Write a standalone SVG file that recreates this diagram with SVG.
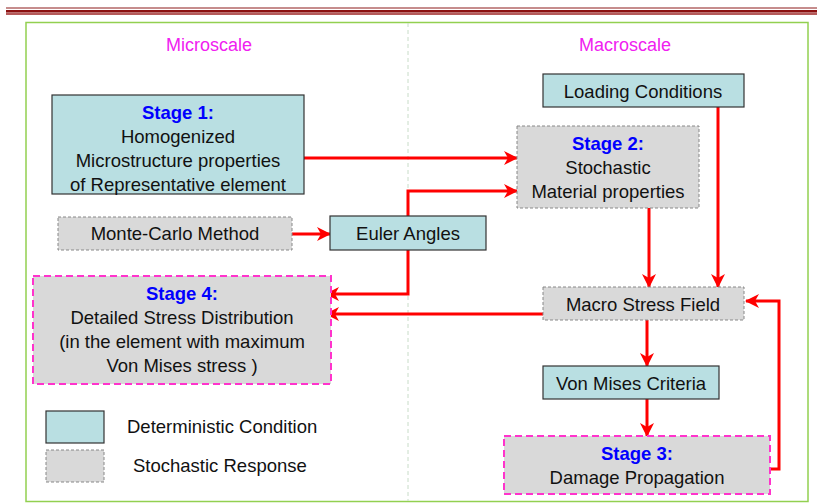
<svg xmlns="http://www.w3.org/2000/svg" width="817" height="504" viewBox="0 0 817 504">
  <style>
    text { font-family: "Liberation Sans", Arial, sans-serif; font-size: 18.5px; fill: #111; text-anchor: middle; }
    .title { fill: #f020f0; font-size: 18px; }
    .stage { fill: #0000ff; font-weight: bold; }
    .det { fill: #b9dfe2; stroke: #333; stroke-width: 1.2; }
    .sto { fill: #d9d9d9; stroke: #888; stroke-width: 1; stroke-dasharray: 3 2; }
    .key { fill: #d9d9d9; stroke: #ff33cc; stroke-width: 2; stroke-dasharray: 7 4; }
    .conn { fill: none; stroke: #ff0000; stroke-width: 3; }
    .legend { text-anchor: start; }
  </style>
  <defs>
    <marker id="arrow" viewBox="0 0 14 14" refX="13" refY="7" markerWidth="14" markerHeight="14" markerUnits="userSpaceOnUse" orient="auto">
      <path d="M0,0 L14,7 L0,14 L4,7 Z" fill="#ff0000"/>
    </marker>
  </defs>

  <!-- page header rule -->
  <line x1="6" y1="8" x2="817" y2="8" stroke="#8c1a1a" stroke-width="1"/>
  <rect x="6" y="10" width="811" height="2.5" fill="#8c1010"/>
  <rect x="6" y="12.5" width="811" height="2.5" fill="#b55a5a"/>

  <!-- frame and scale divider -->
  <rect x="26" y="22.5" width="782" height="479" fill="none" stroke="#92d050" stroke-width="1.5"/>
  <line x1="408" y1="23" x2="408" y2="501" stroke="#c8dcc8" stroke-width="1" stroke-dasharray="4 3"/>

  <text class="title" x="209" y="51">Microscale</text>
  <text class="title" x="625" y="51">Macroscale</text>

  <!-- connectors -->
  <g id="connectors">
    <path class="conn" d="M304,158 L517,158" marker-end="url(#arrow)"/>
    <path class="conn" d="M408,216 L408,191 L517,191" marker-end="url(#arrow)"/>
    <path class="conn" d="M292,234 L330,234" marker-end="url(#arrow)"/>
    <path class="conn" d="M408,250 L408,294 L326,294" marker-end="url(#arrow)"/>
    <path class="conn" d="M543,314 L326,314" marker-end="url(#arrow)"/>
    <path class="conn" d="M649,208 L649,287" marker-end="url(#arrow)"/>
    <path class="conn" d="M718,107 L718,287" marker-end="url(#arrow)"/>
    <path class="conn" d="M647,320 L647,366" marker-end="url(#arrow)"/>
    <path class="conn" d="M647,399 L647,436" marker-end="url(#arrow)"/>
    <path class="conn" d="M770,469 L779,469 L779,301 L746,301" marker-end="url(#arrow)"/>
  </g>

  <g id="stage1">
    <rect class="det" x="52" y="95" width="252" height="99"/>
    <text class="stage" x="178" y="119">Stage 1:</text>
    <text x="178" y="143">Homogenized</text>
    <text x="178" y="167">Microstructure properties</text>
    <text x="178" y="191">of Representative element</text>
  </g>

  <g id="loading">
    <rect class="det" x="543" y="74" width="201" height="33"/>
    <text x="643" y="98">Loading Conditions</text>
  </g>

  <g id="stage2">
    <rect class="sto" x="517" y="126" width="182" height="82"/>
    <text class="stage" x="608" y="150">Stage 2:</text>
    <text x="608" y="174">Stochastic</text>
    <text x="608" y="198">Material properties</text>
  </g>

  <g id="montecarlo">
    <rect class="sto" x="58" y="217" width="234" height="33"/>
    <text x="175" y="240">Monte-Carlo Method</text>
  </g>

  <g id="euler">
    <rect class="det" x="330" y="216" width="156" height="34"/>
    <text x="408" y="240">Euler Angles</text>
  </g>

  <g id="stage4">
    <rect class="key" x="33" y="276" width="298" height="108"/>
    <text class="stage" x="182" y="300">Stage 4:</text>
    <text x="182" y="324">Detailed Stress Distribution</text>
    <text x="182" y="348">(in the element with maximum</text>
    <text x="182" y="372">Von Mises stress )</text>
  </g>

  <g id="macro">
    <rect class="sto" x="543" y="287" width="201" height="33"/>
    <text x="643" y="311">Macro Stress Field</text>
  </g>

  <g id="vonmises">
    <rect class="det" x="543" y="366" width="176" height="33"/>
    <text x="631" y="390">Von Mises Criteria</text>
  </g>

  <g id="stage3">
    <rect class="key" x="504" y="436" width="266" height="58"/>
    <text class="stage" x="637" y="460">Stage 3:</text>
    <text x="637" y="484">Damage Propagation</text>
  </g>

  <g id="legend">
    <rect class="det" x="46" y="411" width="58" height="32"/>
    <rect class="sto" x="46" y="450" width="58" height="32"/>
    <text class="legend" x="127" y="433">Deterministic Condition</text>
    <text class="legend" x="133" y="472">Stochastic Response</text>
  </g>
</svg>
